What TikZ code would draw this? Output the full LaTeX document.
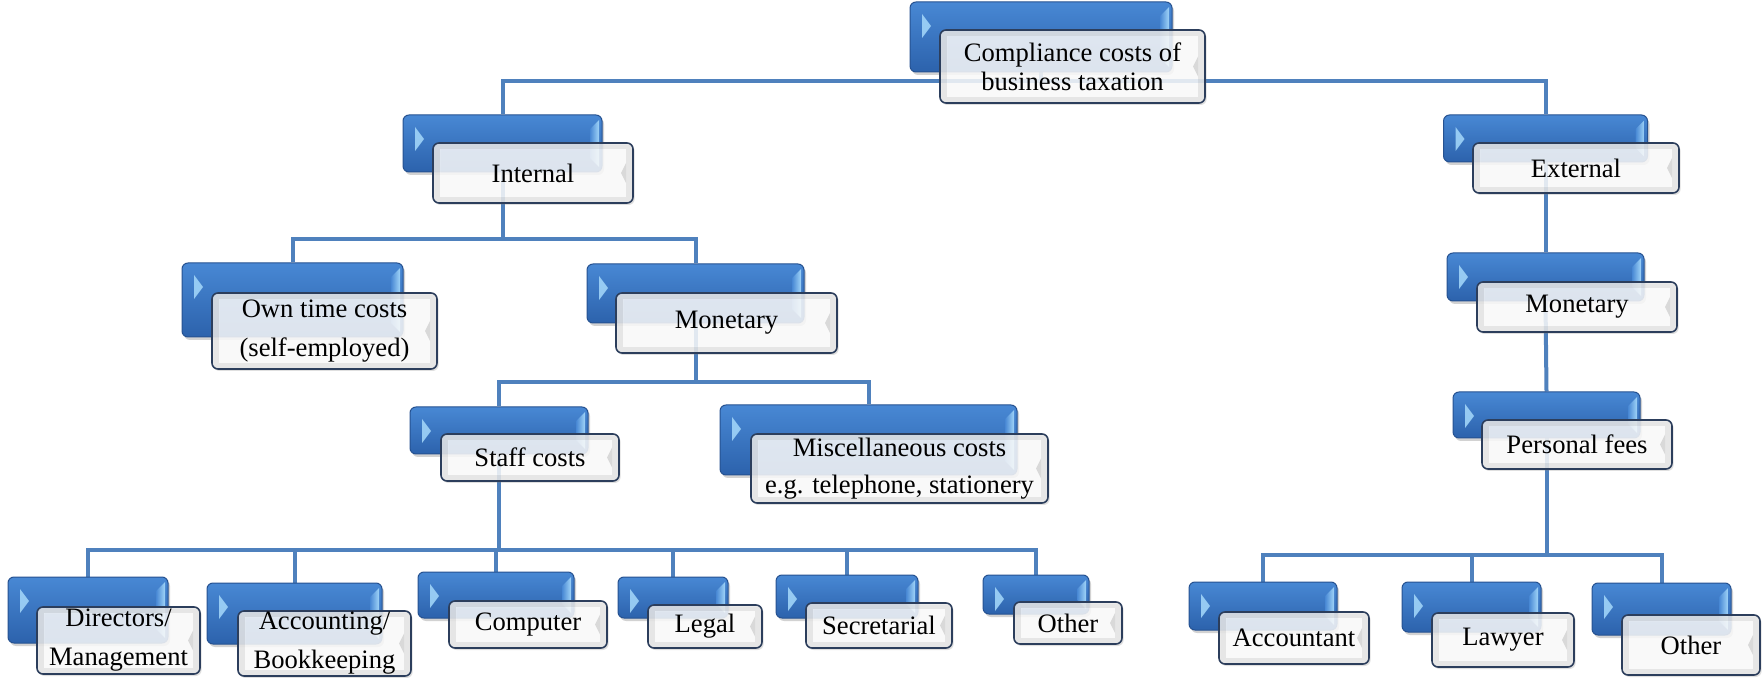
\documentclass[tikz,border=0pt]{standalone}
\usepackage{fontspec}
\setmainfont{Liberation Serif}
\usetikzlibrary{shadows}
\definecolor{lineblue}{RGB}{79,129,189}
\definecolor{boxtop}{RGB}{72,136,212}
\definecolor{boxbot}{RGB}{44,98,172}
\definecolor{boxedge}{RGB}{38,82,145}
\definecolor{bevel}{RGB}{160,212,248}
\definecolor{frontedge}{RGB}{44,62,92}
\pgfdeclarelayer{background}
\pgfdeclarelayer{lines}
\pgfsetlayers{background,lines,main}
\tikzset{
  backbox/.style={rounded corners=3pt,draw=boxedge,line width=0.5pt,top color=boxtop,bottom color=boxbot,inner sep=0pt,
    drop shadow={shadow xshift=1pt,shadow yshift=-1.5pt,opacity=0.35},
    path picture={
      \fill[sharp corners,bevel,opacity=0.9] ([xshift=6pt,yshift=-6pt]path picture bounding box.north west) -- ++(4.5pt,-6pt) -- ++(-4.5pt,-6pt) -- cycle;
      \shade[sharp corners,left color=boxtop,right color=bevel]
        ([xshift=-6pt,yshift=-7pt]path picture bounding box.north east) -- ([xshift=-1.5pt,yshift=-2.5pt]path picture bounding box.north east)
        -- ([xshift=-1.5pt,yshift=2.5pt]path picture bounding box.south east) -- ([xshift=-6pt,yshift=7pt]path picture bounding box.south east) -- cycle;
    }},
  frontbox/.style={rounded corners=3pt,draw=frontedge,line width=0.8pt,align=center,inner sep=0pt,
    drop shadow={shadow xshift=0.8pt,shadow yshift=-1pt,opacity=0.25},
    path picture={
      \fill[sharp corners,gray!18,opacity=0.85,even odd rule] (path picture bounding box.south west) rectangle (path picture bounding box.north east)
        ([shift={(3.5pt,3pt)}]path picture bounding box.south west) rectangle ([shift={(-3.5pt,-3pt)}]path picture bounding box.north east);
      \fill[sharp corners,white,opacity=0.82] ([shift={(3.5pt,3pt)}]path picture bounding box.south west) rectangle ([shift={(-3.5pt,-3pt)}]path picture bounding box.north east);
      \fill[sharp corners,gray!30] ([shift={(-3.5pt,5pt)}]path picture bounding box.east) -- ++(0,-10pt) -- ++(-2.5pt,5pt) -- cycle;
    }},
  conn/.style={draw=lineblue,line width=2pt}
}
\begin{document}
\begin{tikzpicture}[x=0.5pt,y=-0.5pt,font=\fontsize{13.3}{19.5}\selectfont]
\useasboundingbox (0,0) rectangle (1762,678);
\begin{pgfonlayer}{background}
\fill[white] (0,0) rectangle (1762,678);
\end{pgfonlayer}
% back boxes
\node[backbox,minimum width=131pt,minimum height=35pt] (topb) at (1041,37) {};
\node[backbox,minimum width=99.5pt,minimum height=28.5pt] (intb) at (502.5,143.5) {};
\node[backbox,minimum width=102pt,minimum height=23.5pt] (extb) at (1545.5,138.5) {};
\node[backbox,minimum width=110.5pt,minimum height=37pt] (ownb) at (292.5,300) {};
\node[backbox,minimum width=108.5pt,minimum height=29.5pt] (monb) at (695.5,293.5) {};
\node[backbox,minimum width=89pt,minimum height=23.5pt] (staffb) at (499,430.5) {};
\node[backbox,minimum width=148.5pt,minimum height=35pt] (miscb) at (868.5,440) {};
\node[backbox,minimum width=80pt,minimum height=33pt] (dirb) at (88,610) {};
\node[backbox,minimum width=87.5pt,minimum height=30.5pt] (accb) at (294.5,613.5) {};
\node[backbox,minimum width=78pt,minimum height=23pt] (compb) at (496,595) {};
\node[backbox,minimum width=55pt,minimum height=20.5pt] (legb) at (673,597.5) {};
\node[backbox,minimum width=71pt,minimum height=21.5pt] (secb) at (847,596.5) {};
\node[backbox,minimum width=53pt,minimum height=19.5pt] (othb) at (1036,594.5) {};
\node[backbox,minimum width=98.5pt,minimum height=24pt] (exmonb) at (1545.5,277) {};
\node[backbox,minimum width=93.5pt,minimum height=23pt] (feesb) at (1546.5,415) {};
\node[backbox,minimum width=74pt,minimum height=24pt] (accntb) at (1263,606) {};
\node[backbox,minimum width=69.5pt,minimum height=25pt] (lawb) at (1471.5,607) {};
\node[backbox,minimum width=69.5pt,minimum height=26pt] (exothb) at (1661.5,609) {};
% front boxes
\node[frontbox,minimum width=132.5pt,minimum height=36.5pt,font=\fontsize{13.3}{14.5}\selectfont] (top) at (1072.5,66.5) {Compliance costs of\\business taxation};
\node[frontbox,minimum width=100pt,minimum height=30pt] (int) at (533,173) {Internal};
\node[frontbox,minimum width=103pt,minimum height=25pt] (ext) at (1576,168) {External};
\node[frontbox,minimum width=112.5pt,minimum height=38pt] (own) at (324.5,331) {Own time costs\\(self-employed)};
\node[frontbox,minimum width=110.5pt,minimum height=30pt] (mon) at (726.5,323) {Monetary};
\node[frontbox,minimum width=89pt,minimum height=23.5pt] (staff) at (530,457.5) {Staff costs};
\node[frontbox,minimum width=148.5pt,minimum height=34.5pt,font=\fontsize{13.3}{18.5}\selectfont] (misc) at (899.5,468.5) {Miscellaneous costs\\e.g. telephone, stationery};
\node[frontbox,minimum width=81.5pt,minimum height=33.5pt] (dir) at (118.5,640.5) {Directors/\\Management};
\node[frontbox,minimum width=86.5pt,minimum height=32.5pt] (acc) at (324.5,643.5) {Accounting/\\Bookkeeping};
\node[frontbox,minimum width=79pt,minimum height=23.5pt] (comp) at (528,624.5) {Computer};
\node[frontbox,minimum width=57pt,minimum height=21.5pt] (leg) at (705,626.5) {Legal};
\node[frontbox,minimum width=73pt,minimum height=22.5pt] (sec) at (879,625.5) {Secretarial};
\node[frontbox,minimum width=54pt,minimum height=21pt] (oth) at (1068,623) {Other};
\node[frontbox,minimum width=100pt,minimum height=25pt] (exmon) at (1577,307) {Monetary};
\node[frontbox,minimum width=95pt,minimum height=24.5pt] (fees) at (1577,444.5) {Personal fees};
\node[frontbox,minimum width=75pt,minimum height=26pt] (accnt) at (1294,638) {Accountant};
\node[frontbox,minimum width=71pt,minimum height=27pt] (law) at (1503,640) {Lawyer};
\node[frontbox,minimum width=69pt,minimum height=30pt] (exoth) at (1691,645) {Other};
% connectors
\begin{pgfonlayer}{lines}
\draw[conn] (topb.south) -- ++(0,9) -| (intb.north);
\draw[conn] (topb.south) -- ++(0,9) -| (extb.north);
\draw[conn] (intb.south) -- ++(0,67) -| (ownb.north);
\draw[conn] (intb.south) -- ++(0,67) -| (monb.north);
\draw[conn] (extb.south) -- (exmonb.north);
\draw[conn] (monb.south) -- ++(0,59) -| (staffb.north);
\draw[conn] (monb.south) -- ++(0,59) -| (miscb.north);
\draw[conn] (exmonb.south) -- (feesb.north);
\foreach \n in {dirb,accb,compb,legb,secb,othb}
  \draw[conn] (staffb.south) -- ++(0,95) -| (\n.north);
\foreach \n in {accntb,lawb,exothb}
  \draw[conn] (feesb.south) -- ++(0,116) -| (\n.north);
\end{pgfonlayer}
\end{tikzpicture}
\end{document}
